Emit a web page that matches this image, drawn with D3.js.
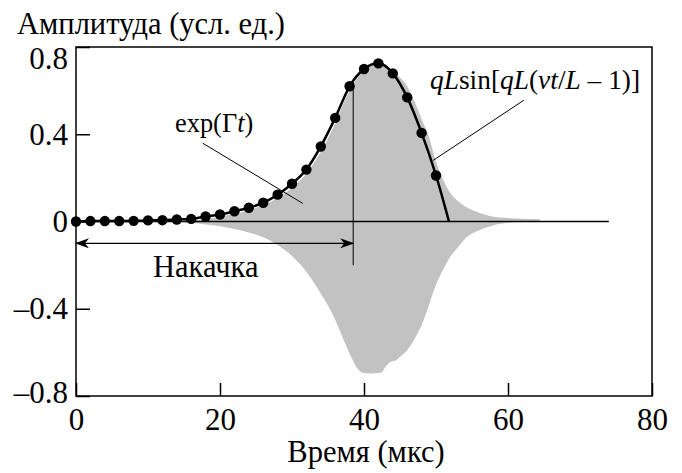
<!DOCTYPE html>
<html>
<head>
<meta charset="utf-8">
<script src="https://cdn.jsdelivr.net/npm/d3@7"></script>
<style>
  html, body { margin: 0; padding: 0; background: #fff; }
  svg { display: block; }
  text { font-family: "Liberation Serif", "Times New Roman", serif; fill: #000; }
</style>
</head>
<body>
<svg id="chart" width="682" height="473"></svg>
<script>
// ---- data ----
// measured points (dots)
const dotTimes = [0,2,4,6,8,10,12,14,16,18,20,22,24,26,28,30,32,34,36,38,40,42,44,46,48,50];
const dotValues = [0,0.002,0.002,0.002,0.003,0.005,0.006,0.009,0.012,0.023,0.032,0.047,0.063,0.086,0.123,0.173,0.238,0.344,0.475,0.62,0.699,0.725,0.679,0.569,0.406,0.211];
// fitted curve ends at zero crossing
const curveEndTime = 51.8;
const curveEndValue = 0;
// gray oscillating signal envelope
const envTimes = [14,16,18,20,22,24,26,28,30,32,34,36,37,38,39,40,41,42,42.5,43,43.5,44.5,45,46,47,48,49,50,51,52,53,54,55,56,57,58,60,62,64.4];
const envUpper = [0,0.004,0.012,0.022,0.035,0.052,0.075,0.108,0.155,0.22,0.32,0.45,0.53,0.6,0.655,0.695,0.72,0.728,0.725,0.718,0.705,0.675,0.66,0.62,0.55,0.47,0.39,0.275,0.19,0.13,0.095,0.07,0.053,0.04,0.03,0.022,0.016,0.013,0.012];
const envLower = [0,-0.006,-0.014,-0.022,-0.034,-0.05,-0.072,-0.108,-0.158,-0.23,-0.33,-0.45,-0.53,-0.605,-0.67,-0.695,-0.697,-0.695,-0.69,-0.665,-0.648,-0.635,-0.62,-0.59,-0.54,-0.475,-0.385,-0.29,-0.22,-0.16,-0.12,-0.08,-0.055,-0.04,-0.028,-0.017,-0.006,-0.002,0];
// pump duration marker
const pumpEnd = 38.5;
const pumpArrowLevel = -0.1;
// ticks
const xTicks = [0,20,40,60,80];
const xTickLabels = ["0","20","40","60","80"];
const yTicks = [-0.8,-0.4,0,0.4,0.8];
const yTickLabels = ["\u20130.8","\u20130.4","0","0.4","0.8"];
const yTitle = "Амплитуда (усл. ед.)";
const xTitle = "Время (мкс)";
const pumpLabel = "Накачка";
const zeroLineEnd = 74;

// ---- layout ----
const svg = d3.select("#chart");
const L = 76, R = 652, T = 47, B = 396;
const x = d3.scaleLinear().domain([0,80]).range([L,R]);
const y = d3.scaleLinear().domain([-0.8,0.8]).range([B,T]);
const FS = 30.5;   // label font size
const TFS = 31;    // tick font size

// defs: arrowheads
const defs = svg.append("defs");
function marker(id, orient) {
  defs.append("marker").attr("id", id)
    .attr("viewBox","0 0 14 10").attr("refX",13).attr("refY",5)
    .attr("markerWidth",14).attr("markerHeight",10)
    .attr("markerUnits","userSpaceOnUse")
    .attr("orient", orient)
    .append("path").attr("d","M0,0 L14,5 L0,10 L4,5 Z").attr("fill","#000");
}
marker("arrEnd","auto");
marker("arrStart","auto-start-reverse");

// gray signal
const envData = envTimes.map((t,i)=>({t, hi: envUpper[i], lo: envLower[i]}));
svg.append("path")
  .datum(envData)
  .attr("fill","#c2c2c2")
  .attr("d", d3.area().x(d=>x(d.t)).y0(d=>y(d.lo)).y1(d=>y(d.hi)).curve(d3.curveMonotoneX));

// zero line
svg.append("line")
  .attr("x1", x(0)).attr("x2", x(zeroLineEnd))
  .attr("y1", y(0)).attr("y2", y(0))
  .attr("stroke","#000").attr("stroke-width",1.5);

// frame
svg.append("rect").attr("x",L).attr("y",T).attr("width",R-L).attr("height",B-T)
  .attr("fill","none").attr("stroke","#000").attr("stroke-width",1.5);

// axes
const xAxis = d3.axisBottom(x).tickValues(xTicks)
  .tickFormat((d,i)=>xTickLabels[i]).tickSizeInner(-13).tickSizeOuter(0).tickPadding(12);
const gx = svg.append("g").attr("transform",`translate(0,${B})`).call(xAxis);
gx.select(".domain").remove();
gx.selectAll(".tick line").attr("stroke","#000").attr("stroke-width",1.5);
gx.selectAll(".tick text").attr("font-size",TFS).attr("font-family","Liberation Serif");

const yAxis = d3.axisLeft(y).tickValues(yTicks)
  .tickFormat((d,i)=>yTickLabels[i]).tickSizeInner(-14).tickSizeOuter(0).tickPadding(8);
const gy = svg.append("g").attr("transform",`translate(${L},0)`).call(yAxis);
gy.select(".domain").remove();
gy.selectAll(".tick line").attr("stroke","#000").attr("stroke-width",1.5);
gy.selectAll(".tick text").attr("font-size",TFS).attr("font-family","Liberation Serif")
  .attr("dy", d => d === 0.8 ? "0.7em" : (d === -0.8 ? "0.2em" : "0.33em"));

function label(px, py, fs, anchor) {
  return svg.append("text")
    .attr("x", px).attr("y", py)
    .attr("text-anchor", anchor || "start")
    .attr("font-size", fs);
}

// axis titles
label(17, 34, FS).text(yTitle);
label(366, 462, FS, "middle").text(xTitle);

// pump marker
svg.append("line")
  .attr("x1", x(pumpEnd)).attr("x2", x(pumpEnd))
  .attr("y1", y(0.64)).attr("y2", y(-0.2))
  .attr("stroke","#000").attr("stroke-width",1);
svg.append("line")
  .attr("x1", x(0)).attr("x2", x(pumpEnd))
  .attr("y1", y(pumpArrowLevel)).attr("y2", y(pumpArrowLevel))
  .attr("stroke","#000").attr("stroke-width",1.2)
  .attr("marker-start","url(#arrStart)").attr("marker-end","url(#arrEnd)");
label(153, 277, FS).text(pumpLabel);

// fitted curve
const lineData = dotTimes.map((t,i)=>({t, v: dotValues[i]})).concat([{t: curveEndTime, v: curveEndValue}]);
svg.append("path").datum(lineData)
  .attr("fill","none").attr("stroke","#000").attr("stroke-width",2.5)
  .attr("d", d3.line().x(d=>x(d.t)).y(d=>y(d.v)).curve(d3.curveMonotoneX));

// dots
svg.append("g").selectAll("circle")
  .data(dotTimes.map((t,i)=>({t, v: dotValues[i]})))
  .join("circle")
  .attr("cx", d=>x(d.t)).attr("cy", d=>y(d.v)).attr("r",5.2).attr("fill","#000");

// annotations
svg.append("line")
  .attr("x1", x(17.6)).attr("y1", y(0.359)).attr("x2", x(31.5)).attr("y2", y(0.083))
  .attr("stroke","#000").attr("stroke-width",1);
const e = label(175, 132, 26.4);
e.append("tspan").text("exp(Γ");
e.append("tspan").attr("font-style","italic").text("t");
e.append("tspan").text(")");

svg.append("line")
  .attr("x1", x(62.2)).attr("y1", y(0.556)).attr("x2", x(49.6)).attr("y2", y(0.28))
  .attr("stroke","#000").attr("stroke-width",1);
const q = label(430, 89, 27.4);
q.append("tspan").attr("font-style","italic").text("qL");
q.append("tspan").text("sin[");
q.append("tspan").attr("font-style","italic").text("qL");
q.append("tspan").text("(");
q.append("tspan").attr("font-style","italic").text("vt");
q.append("tspan").text("/");
q.append("tspan").attr("font-style","italic").text("L");
q.append("tspan").text(" \u2013 1)]");
</script>
</body>
</html>
